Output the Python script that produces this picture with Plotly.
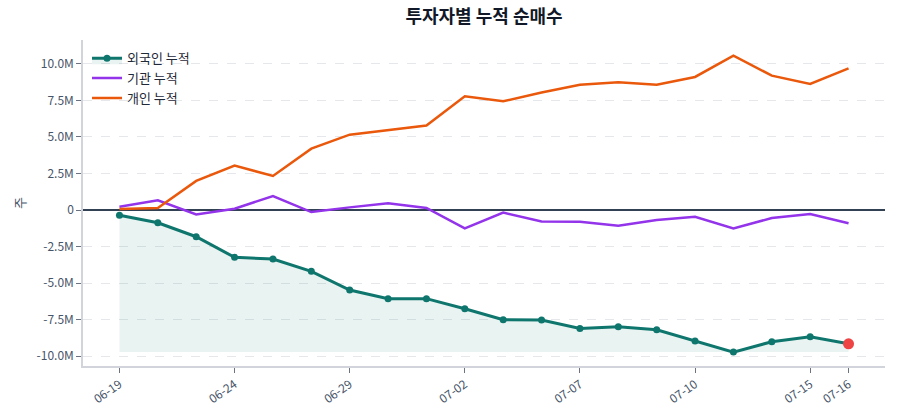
import plotly.graph_objects as go

dates = ["06-19", "06-20", "06-23", "06-24", "06-25", "06-26", "06-29", "06-30", "07-01", "07-02",
         "07-03", "07-04", "07-07", "07-08", "07-09", "07-10", "07-11", "07-14", "07-15", "07-16"]
foreign = [-0.36, -0.87, -1.83, -3.24, -3.36, -4.20, -5.48, -6.07, -6.07, -6.76,
           -7.51, -7.53, -8.11, -7.99, -8.20, -8.97, -9.73, -9.02, -8.68, -9.16]
institution = [0.23, 0.66, -0.30, 0.09, 0.96, -0.14, 0.18, 0.46, 0.14, -1.26,
               -0.18, -0.78, -0.80, -1.07, -0.68, -0.46, -1.26, -0.55, -0.27, -0.91]
individual = [0.07, 0.14, 1.99, 3.04, 2.33, 4.20, 5.16, 5.48, 5.78, 7.79,
              7.44, 8.04, 8.58, 8.74, 8.58, 9.11, 10.57, 9.20, 8.63, 9.70]
tick_dates = ["06-19", "06-24", "06-29", "07-02", "07-07", "07-10", "07-15", "07-16"]
y_ticks = [-10, -7.5, -5, -2.5, 0, 2.5, 5, 7.5, 10]
y_ticktext = ["-10.0M", "-7.5M", "-5.0M", "-2.5M", "0", "2.5M", "5.0M", "7.5M", "10.0M"]

M = 1_000_000
f_vals = [v * M for v in foreign]
i_vals = [v * M for v in institution]
p_vals = [v * M for v in individual]
base = min(f_vals)

FONT = "Noto Sans CJK KR, Noto Sans, sans-serif"

fig = go.Figure()
fig.add_trace(go.Scatter(x=dates, y=[base] * len(dates), mode="lines",
                         line=dict(width=0), showlegend=False, hoverinfo="skip"))
fig.add_trace(go.Scatter(x=dates, y=f_vals, mode="lines+markers", name="외국인 누적",
                         line=dict(color="#0f766e", width=3),
                         marker=dict(size=7, color="#0f766e"),
                         fill="tonexty", fillcolor="rgba(15,118,110,0.09)"))
fig.add_trace(go.Scatter(x=dates, y=i_vals, mode="lines", name="기관 누적",
                         line=dict(color="#9333ea", width=2.5)))
fig.add_trace(go.Scatter(x=dates, y=p_vals, mode="lines", name="개인 누적",
                         line=dict(color="#ea580c", width=2.5)))
fig.add_trace(go.Scatter(x=[dates[-1]], y=[f_vals[-1]], mode="markers", showlegend=False,
                         marker=dict(size=11, color="#ef4444")))

fig.update_layout(
    width=900, height=420,
    margin=dict(l=83, r=15, t=40, b=54),
    paper_bgcolor="white", plot_bgcolor="white",
    font=dict(family=FONT, size=12, color="#475569"),
    title=dict(text="<b>투자자별 누적 순매수</b>", x=0.5, xref="paper", y=0.975, yanchor="top",
               font=dict(size=18, color="#111827", family=FONT)),
    legend=dict(x=0.005, y=0.99, xanchor="left", yanchor="top", bgcolor="rgba(255,255,255,0)",
                font=dict(size=13, color="#1f2937"), traceorder="normal"),
    showlegend=True,
)
fig.update_xaxes(
    type="category", categoryorder="array", categoryarray=dates,
    range=[-0.95, len(dates) - 1 + 0.95],
    tickmode="array", tickvals=tick_dates, ticktext=tick_dates, tickangle=-35,
    showgrid=False, showline=True, linecolor="#d1d5db", linewidth=1.5,
    ticks="outside", ticklen=5, tickcolor="#6b7280", tickfont=dict(size=12, color="#475569"),
    zeroline=False,
)
fig.update_yaxes(
    range=[-10.68 * M, 11.64 * M],
    tickmode="array", tickvals=[v * M for v in y_ticks], ticktext=y_ticktext,
    showgrid=True, gridcolor="#e5e7eb", griddash="dash", gridwidth=1,
    zeroline=True, zerolinecolor="#334155", zerolinewidth=1.5,
    showline=True, linecolor="#d1d5db", linewidth=1.5,
    ticks="outside", ticklen=5, tickcolor="#6b7280", tickfont=dict(size=12, color="#475569"),
    title=dict(text="주", font=dict(size=13, color="#475569"), standoff=8),
)

fig.write_html("out.html")
